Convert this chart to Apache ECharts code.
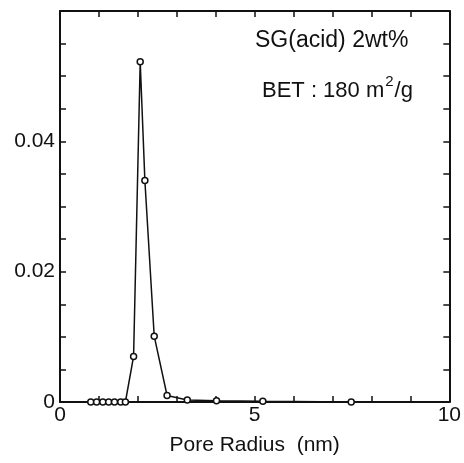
<!DOCTYPE html>
<html>
<head>
<meta charset="utf-8">
<script src="https://cdn.jsdelivr.net/npm/echarts@6/dist/echarts.min.js"></script>
<style>
  html, body { margin: 0; padding: 0; background: #fff; }
  #chart { width: 464px; height: 463px; }
</style>
</head>
<body>
<div id="chart"></div>
<script>
// Pore size distribution: pore radius (nm) vs. distribution value
const poreRadius = [0.79, 0.94, 1.10, 1.25, 1.40, 1.56, 1.68, 1.89, 2.06, 2.18, 2.42, 2.75, 3.27, 4.02, 5.21, 7.48];
const distribution = [0, 0, 0, 0, 0, 0, 0, 0.0070, 0.0522, 0.0340, 0.0101, 0.0010, 0.0003, 0.0002, 0.0001, 0];
const xTickLabels = [0, 5, 10];
const yTickLabels = [0, 0.02, 0.04];
const sampleLabel = 'SG(acid) 2wt%';
const surfaceLabelParts = ['BET : 180 m', '2', '/g'];
const xTitle = 'Pore Radius  (nm)';

const FONT = '"Liberation Sans", Arial, sans-serif';
const INK = '#111';

const points = poreRadius.map((r, i) => [r, distribution[i]]);

const chart = echarts.init(document.getElementById('chart'), null, { renderer: 'canvas' });

const frameAxis = {
  axisLine: { show: true, onZero: false, lineStyle: { color: INK, width: 2 } },
  axisTick: { show: true, inside: true, length: 6, lineStyle: { color: INK, width: 1.5 } },
  splitLine: { show: false }
};

chart.setOption({
  animation: false,
  backgroundColor: '#fff',
  grid: { left: 60, right: 12, top: 11, bottom: 61 },
  xAxis: [
    Object.assign({
      type: 'value', min: 0, max: 10, interval: 1, position: 'bottom',
      name: xTitle, nameLocation: 'middle', nameGap: 33,
      nameTextStyle: { fontFamily: FONT, fontSize: 21, color: INK },
      axisLabel: {
        margin: 3, fontFamily: FONT, fontSize: 21, color: INK,
        formatter: v => (xTickLabels.indexOf(Math.round(v)) >= 0 && Math.abs(v - Math.round(v)) < 1e-6) ? String(Math.round(v)) : ''
      }
    }, frameAxis),
    Object.assign({
      type: 'value', min: 0, max: 10, interval: 1, position: 'top',
      axisLabel: { show: false }
    }, frameAxis)
  ],
  yAxis: [
    Object.assign({
      type: 'value', min: 0, max: 0.06, interval: 0.005, position: 'left',
      axisLabel: {
        margin: 5, fontFamily: FONT, fontSize: 21, color: INK,
        formatter: v => {
          const hit = yTickLabels.find(t => Math.abs(t - v) < 1e-9);
          if (hit === undefined) return '';
          return hit === 0 ? '0' : hit.toFixed(2);
        }
      }
    }, frameAxis),
    Object.assign({
      type: 'value', min: 0, max: 0.06, interval: 0.005, position: 'right',
      axisLabel: { show: false }
    }, frameAxis)
  ],
  series: [{
    type: 'line',
    data: points,
    xAxisIndex: 0,
    yAxisIndex: 0,
    symbol: 'circle',
    symbolSize: 6,
    showAllSymbol: true,
    lineStyle: { color: INK, width: 1.5 },
    itemStyle: { color: '#fff', borderColor: INK, borderWidth: 1.5 },
    z: 3
  }],
  graphic: [
    {
      type: 'text', left: 255, top: 29,
      style: { text: sampleLabel, fontFamily: FONT, fontSize: 23, fill: INK }
    },
    {
      type: 'text', left: 262, top: 74,
      style: {
        text: '{t|' + surfaceLabelParts[0] + '}{s|' + surfaceLabelParts[1] + '}{t|' + surfaceLabelParts[2] + '}',
        rich: {
          t: { fontFamily: FONT, fontSize: 22, fill: INK, lineHeight: 28, verticalAlign: 'bottom' },
          s: { fontFamily: FONT, fontSize: 15, fill: INK, lineHeight: 28, verticalAlign: 'top', padding: [0, 1, 0, 1] }
        }
      }
    }
  ]
});
</script>
</body>
</html>
